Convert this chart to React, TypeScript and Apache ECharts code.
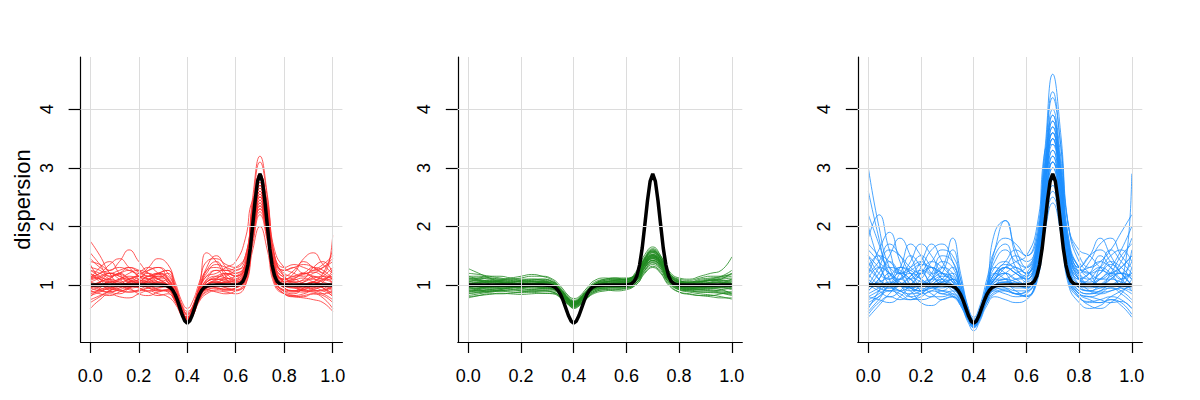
import React, { useEffect, useRef } from "react";
import * as echarts from "echarts";

// shared x grid for the simulated curves
const X = [0, 0.04, 0.08, 0.12, 0.16, 0.2, 0.24, 0.28, 0.32, 0.35, 0.38, 0.4, 0.42, 0.45, 0.48, 0.52, 0.56, 0.6, 0.64, 0.67, 0.7, 0.73, 0.76, 0.8, 0.84, 0.88, 0.92, 0.96, 1.0];

// true dispersion function (black)
const truthX = [0, 0.28, 0.3, 0.31, 0.32, 0.33, 0.34, 0.35, 0.36, 0.37, 0.38, 0.39, 0.4, 0.41, 0.42, 0.43, 0.44, 0.45, 0.46, 0.47, 0.48, 0.49, 0.5, 0.52, 0.58, 0.6, 0.61, 0.62, 0.63, 0.64, 0.65, 0.66, 0.67, 0.68, 0.69, 0.7, 0.71, 0.72, 0.73, 0.74, 0.75, 0.76, 0.77, 0.78, 0.79, 0.8, 0.82, 1.0];
const truthY = [1, 1, 0.998, 0.993, 0.981, 0.957, 0.912, 0.838, 0.733, 0.606, 0.479, 0.385, 0.35, 0.385, 0.479, 0.606, 0.733, 0.838, 0.912, 0.957, 0.981, 0.993, 0.998, 1, 1, 1.002, 1.007, 1.024, 1.066, 1.16, 1.34, 1.63, 2.03, 2.44, 2.77, 2.9, 2.77, 2.44, 2.03, 1.63, 1.34, 1.16, 1.066, 1.024, 1.007, 1.002, 1, 1];

const redCurves = [
  [1.05,1.12,1.2,1.15,1.05,1.0,1.08,1.15,1.05,0.82,0.5,0.4,0.5,0.85,1.05,1.1,1.05,1.02,1.25,2.2,2.8,2.2,1.3,1.05,1.1,1.2,1.12,1.0,0.95],
  [0.85,0.9,0.95,0.92,0.88,0.9,0.95,0.92,0.88,0.72,0.45,0.38,0.45,0.75,0.9,0.95,0.92,0.95,1.1,1.8,2.4,1.85,1.1,0.9,0.88,0.92,0.95,0.9,0.82],
  [1.3,1.25,1.15,1.2,1.3,1.25,1.15,1.2,1.15,0.95,0.6,0.5,0.6,0.95,1.2,1.35,1.3,1.25,1.45,2.4,3.1,2.5,1.5,1.25,1.3,1.2,1.25,1.35,1.5],
  [1.75,1.5,1.2,1.05,1.1,1.15,1.1,1.0,0.95,0.8,0.52,0.42,0.5,0.8,0.98,1.05,1.0,0.98,1.2,2.0,2.6,2.0,1.2,0.95,0.9,1.0,1.05,0.95,0.8],
  [0.7,0.8,0.9,1.0,0.95,0.85,0.82,0.88,0.9,0.75,0.48,0.38,0.47,0.78,0.95,1.0,0.95,0.9,1.05,1.7,2.2,1.75,1.05,0.85,0.8,0.82,0.85,0.78,0.6],
  [1.1,1.3,1.4,1.2,1.05,1.1,1.25,1.3,1.1,0.85,0.55,0.45,0.55,0.9,1.25,1.4,1.2,1.1,1.35,2.3,2.9,2.3,1.4,1.15,1.05,1.1,1.3,1.4,1.2],
  [0.95,1.0,1.05,1.1,1.15,1.1,1.0,0.95,0.98,0.8,0.5,0.42,0.5,0.82,1.0,1.05,1.1,1.15,1.3,2.1,2.7,2.1,1.3,1.05,1.0,0.95,1.0,1.1,1.15],
  [1.2,1.1,1.0,0.9,0.95,1.05,1.15,1.2,1.1,0.85,0.55,0.45,0.52,0.8,1.0,1.1,1.2,1.15,1.4,2.5,3.2,2.55,1.5,1.15,1.0,0.9,0.95,1.05,1.25],
  [0.9,0.85,0.82,0.88,0.95,1.0,0.95,0.9,0.92,0.78,0.5,0.4,0.48,0.78,0.92,0.88,0.85,0.9,1.0,1.6,2.0,1.6,1.0,0.85,0.82,0.85,0.9,0.85,0.75],
  [1.4,1.35,1.25,1.4,1.6,1.4,1.2,1.1,1.0,0.8,0.5,0.4,0.5,0.9,1.3,1.5,1.3,1.15,1.3,2.2,2.8,2.2,1.35,1.1,1.2,1.45,1.55,1.35,1.2],
  [1.0,1.05,1.1,1.05,1.0,0.98,1.0,1.05,1.0,0.82,0.52,0.42,0.52,0.85,1.02,1.05,1.02,1.0,1.2,2.0,2.6,2.05,1.2,1.0,1.0,1.05,1.1,1.05,1.0],
  [0.6,0.75,0.85,0.8,0.78,0.85,0.9,0.85,0.8,0.68,0.45,0.37,0.45,0.72,0.85,0.9,0.88,0.85,1.0,1.75,2.25,1.8,1.05,0.85,0.8,0.78,0.75,0.7,0.55],
  [1.15,1.2,1.35,1.45,1.3,1.15,1.1,1.2,1.25,1.0,0.65,0.55,0.62,0.95,1.15,1.2,1.3,1.4,1.8,2.45,2.5,2.0,1.4,1.2,1.15,1.2,1.3,1.25,1.1],
  [1.25,1.15,1.05,1.0,1.05,1.15,1.3,1.45,1.35,1.05,0.7,0.6,0.7,1.05,1.4,1.45,1.35,1.3,1.5,2.3,2.85,2.4,1.6,1.3,1.2,1.15,1.2,1.3,1.45],
  [0.8,0.95,1.1,1.2,1.1,0.95,0.9,0.95,1.0,0.85,0.55,0.45,0.55,0.85,1.0,0.95,0.9,0.95,1.1,1.9,2.45,1.9,1.1,0.9,0.85,0.95,1.05,0.95,0.85],
  [1.55,1.35,1.15,1.2,1.25,1.15,1.05,1.1,1.2,0.95,0.62,0.5,0.6,1.0,1.55,1.4,1.15,1.05,1.25,2.15,2.75,2.2,1.35,1.15,1.25,1.4,1.3,1.2,1.85],
  [1.0,0.92,0.88,0.95,1.05,1.2,1.3,1.2,1.05,0.8,0.5,0.41,0.5,0.8,0.95,1.0,1.05,1.1,1.25,2.0,2.55,2.0,1.25,1.05,1.1,1.0,0.92,0.9,1.0],
  [0.75,0.82,0.9,0.95,0.98,0.95,0.88,0.82,0.85,0.72,0.48,0.4,0.48,0.75,0.88,0.92,0.95,0.92,1.1,1.85,2.35,1.85,1.1,0.88,0.82,0.8,0.85,0.82,0.7],
  [1.1,1.2,1.25,1.3,1.25,1.2,1.25,1.3,1.2,0.92,0.58,0.48,0.58,0.92,1.15,1.25,1.25,1.2,1.35,2.25,2.9,2.35,1.45,1.25,1.3,1.35,1.3,1.2,1.1],
  [1.35,1.1,0.95,0.9,0.88,0.92,1.0,1.05,0.95,0.75,0.48,0.39,0.48,0.78,0.95,1.0,0.98,1.0,1.15,1.95,2.5,1.95,1.15,0.98,0.95,0.9,0.88,0.85,0.9],
  [0.95,1.05,1.2,1.1,1.0,1.05,1.15,1.05,0.98,0.78,0.5,0.4,0.5,0.8,0.98,1.02,1.15,1.25,1.35,2.1,2.65,2.1,1.3,1.05,1.0,1.05,1.15,1.1,1.05],
  [1.2,1.05,0.9,0.85,0.95,1.1,1.2,1.1,1.0,0.82,0.55,0.45,0.55,0.88,1.1,1.25,1.1,1.0,1.2,1.9,2.3,1.85,1.15,0.95,0.9,0.95,1.05,1.2,1.6],
  [1.05,1.0,0.95,1.0,1.1,1.15,1.1,1.05,1.0,0.8,0.5,0.41,0.5,0.82,1.0,1.08,1.12,1.08,1.25,2.05,2.6,2.1,1.25,1.05,0.98,0.95,1.0,1.08,1.1],
  [0.9,0.98,1.05,1.0,0.92,0.9,0.95,1.0,0.95,0.78,0.5,0.4,0.49,0.8,0.95,0.98,1.0,1.02,1.2,1.95,2.45,1.95,1.2,1.0,0.95,1.0,1.05,1.0,0.92],
  [1.15,1.1,1.05,1.1,1.2,1.25,1.2,1.1,1.05,0.85,0.55,0.44,0.53,0.86,1.05,1.15,1.2,1.15,1.3,2.15,2.7,2.15,1.3,1.1,1.15,1.2,1.15,1.1,1.2],
  [0.98,1.05,1.12,1.18,1.1,1.02,0.98,1.0,1.02,0.83,0.52,0.42,0.51,0.83,1.0,1.05,1.0,0.98,1.15,1.9,2.4,1.95,1.2,1.02,1.08,1.12,1.05,0.98,0.9],
  [1.25,1.2,1.1,1.02,0.98,1.0,1.05,1.12,1.08,0.86,0.54,0.43,0.52,0.85,1.05,1.12,1.18,1.2,1.35,2.2,2.75,2.2,1.35,1.12,1.05,1.02,1.05,1.15,1.3],
  [0.82,0.88,0.95,0.98,1.02,1.05,1.0,0.92,0.9,0.74,0.47,0.38,0.47,0.76,0.92,0.95,0.92,0.95,1.1,1.85,2.3,1.85,1.1,0.92,0.9,0.92,0.98,0.95,0.85],
  [1.1,1.15,1.2,1.15,1.08,1.05,1.1,1.18,1.12,0.88,0.55,0.45,0.55,0.88,1.08,1.15,1.12,1.08,1.28,2.1,2.65,2.15,1.3,1.1,1.12,1.18,1.22,1.15,1.05],
  [1.0,0.95,0.92,0.98,1.05,1.08,1.05,1.0,0.98,0.8,0.5,0.4,0.5,0.8,0.98,1.02,1.05,1.05,1.22,2.0,2.55,2.05,1.25,1.05,1.0,0.98,0.95,0.98,1.02],
  [1.45,1.3,1.2,1.25,1.3,1.22,1.15,1.2,1.25,0.98,0.62,0.52,0.62,0.98,1.25,1.3,1.25,1.3,1.5,2.35,2.9,2.35,1.5,1.3,1.35,1.3,1.25,1.3,1.4],
  [0.88,0.92,1.0,1.08,1.12,1.05,0.95,0.9,0.92,0.76,0.49,0.4,0.49,0.78,0.94,1.0,1.05,1.0,1.15,1.9,2.35,1.9,1.15,0.95,0.9,0.88,0.92,0.98,1.05],
  [1.08,1.12,1.08,1.0,0.95,0.98,1.08,1.15,1.1,0.87,0.55,0.44,0.54,0.86,1.05,1.1,1.08,1.05,1.25,2.1,2.7,2.1,1.28,1.08,1.05,1.08,1.12,1.15,1.1],
  [0.95,0.9,0.88,0.92,0.98,1.02,1.05,1.02,0.96,0.78,0.49,0.4,0.49,0.8,0.96,1.0,0.98,0.98,1.15,1.95,2.5,2.0,1.2,1.0,0.96,0.92,0.9,0.92,0.96],
];

const greenCurves = [
  [1.0,1.02,1.05,1.05,1.03,1.0,1.0,1.02,1.0,0.9,0.75,0.7,0.74,0.88,0.98,1.02,1.03,1.05,1.15,1.35,1.45,1.35,1.15,1.02,1.0,1.0,1.02,1.0,0.98],
  [0.88,0.9,0.92,0.9,0.88,0.87,0.88,0.9,0.88,0.8,0.68,0.63,0.67,0.78,0.88,0.92,0.93,0.95,1.05,1.25,1.35,1.25,1.05,0.92,0.9,0.88,0.88,0.86,0.82],
  [1.2,1.18,1.15,1.12,1.1,1.12,1.15,1.15,1.1,0.98,0.82,0.77,0.8,0.95,1.08,1.12,1.1,1.1,1.2,1.45,1.6,1.45,1.22,1.1,1.08,1.12,1.15,1.15,1.2],
  [1.1,1.08,1.05,1.02,1.0,1.02,1.05,1.05,1.0,0.88,0.72,0.66,0.7,0.85,0.98,1.05,1.08,1.1,1.2,1.42,1.55,1.4,1.15,1.0,0.98,1.0,1.05,1.1,1.2],
  [0.82,0.85,0.88,0.9,0.92,0.9,0.88,0.86,0.85,0.78,0.66,0.61,0.65,0.78,0.88,0.92,0.9,0.92,1.02,1.2,1.3,1.2,1.0,0.88,0.85,0.82,0.82,0.85,0.88],
  [1.05,1.1,1.12,1.1,1.08,1.05,1.02,1.0,0.98,0.88,0.73,0.68,0.72,0.86,0.98,1.0,1.02,1.05,1.15,1.38,1.5,1.4,1.18,1.05,1.02,1.05,1.08,1.05,1.0],
  [0.95,0.98,1.0,1.02,1.05,1.08,1.1,1.08,1.02,0.9,0.75,0.7,0.74,0.87,0.98,1.0,1.0,1.02,1.12,1.35,1.48,1.38,1.15,1.0,0.95,0.95,0.98,1.02,1.1],
  [1.28,1.2,1.12,1.05,1.0,0.98,1.0,1.02,0.98,0.87,0.72,0.67,0.71,0.85,0.97,1.02,1.05,1.08,1.2,1.45,1.58,1.45,1.2,1.05,1.0,0.98,0.98,1.0,1.05],
  [0.78,0.82,0.85,0.85,0.86,0.88,0.9,0.9,0.88,0.8,0.67,0.62,0.66,0.8,0.9,0.95,0.95,0.95,1.05,1.25,1.38,1.28,1.05,0.92,0.88,0.85,0.83,0.8,0.76],
  [1.15,1.15,1.12,1.1,1.12,1.15,1.18,1.15,1.08,0.95,0.8,0.74,0.78,0.92,1.05,1.1,1.12,1.12,1.22,1.48,1.62,1.5,1.25,1.12,1.1,1.15,1.2,1.25,1.48],
  [0.98,0.96,0.95,0.96,0.98,1.0,0.98,0.96,0.95,0.86,0.71,0.66,0.7,0.84,0.95,0.98,0.98,1.0,1.1,1.32,1.45,1.35,1.12,0.98,0.96,0.96,0.97,0.98,0.95],
  [0.9,0.94,0.98,1.0,0.98,0.95,0.92,0.92,0.92,0.83,0.69,0.64,0.68,0.82,0.92,0.95,0.97,1.0,1.1,1.3,1.42,1.32,1.1,0.95,0.92,0.92,0.94,0.92,0.85],
  [1.05,1.04,1.05,1.08,1.1,1.08,1.05,1.05,1.05,0.93,0.78,0.72,0.76,0.9,1.02,1.08,1.1,1.1,1.25,1.52,1.65,1.5,1.22,1.08,1.05,1.05,1.08,1.12,1.15],
  [0.85,0.88,0.9,0.92,0.95,0.97,0.98,0.96,0.93,0.84,0.7,0.65,0.69,0.82,0.93,0.98,1.0,1.02,1.12,1.35,1.48,1.38,1.12,0.98,0.92,0.9,0.9,0.92,0.95],
  [1.0,1.05,1.08,1.08,1.05,1.02,1.02,1.05,1.03,0.92,0.76,0.7,0.74,0.88,1.02,1.1,1.12,1.08,1.18,1.4,1.52,1.42,1.2,1.05,1.05,1.08,1.1,1.08,1.02],
  [0.92,0.9,0.88,0.9,0.92,0.95,0.98,1.0,0.98,0.88,0.73,0.68,0.72,0.86,0.96,1.0,0.98,0.98,1.08,1.3,1.42,1.32,1.1,0.96,0.95,0.96,0.98,1.0,1.02],
  [1.1,1.12,1.15,1.15,1.12,1.1,1.1,1.1,1.05,0.92,0.77,0.72,0.75,0.9,1.02,1.06,1.08,1.1,1.2,1.45,1.58,1.48,1.22,1.08,1.05,1.1,1.12,1.15,1.25],
  [0.8,0.82,0.84,0.86,0.85,0.84,0.85,0.86,0.86,0.79,0.67,0.6,0.64,0.77,0.86,0.9,0.92,0.94,1.02,1.22,1.32,1.22,1.02,0.88,0.84,0.82,0.8,0.78,0.78],
  [1.02,1.0,0.98,1.0,1.02,1.04,1.06,1.06,1.02,0.9,0.74,0.69,0.73,0.87,0.99,1.04,1.06,1.06,1.15,1.4,1.52,1.4,1.15,1.02,1.0,1.02,1.04,1.06,1.1],
  [0.95,0.92,0.9,0.92,0.96,1.0,1.02,1.0,0.96,0.86,0.72,0.67,0.71,0.85,0.95,0.98,1.02,1.05,1.15,1.38,1.5,1.38,1.12,0.98,0.95,0.92,0.9,0.88,0.85],
  [1.12,1.08,1.02,0.98,0.98,1.0,1.02,1.04,1.0,0.89,0.74,0.68,0.72,0.86,0.98,1.02,1.04,1.06,1.18,1.42,1.55,1.42,1.18,1.04,1.0,0.98,1.0,1.02,1.08],
  [0.88,0.92,0.95,0.95,0.94,0.92,0.92,0.94,0.94,0.85,0.71,0.66,0.7,0.84,0.94,0.97,0.96,0.98,1.08,1.3,1.4,1.3,1.08,0.94,0.92,0.93,0.95,0.95,0.92],
  [1.0,0.98,0.97,0.98,1.0,1.02,1.03,1.02,1.0,0.89,0.74,0.69,0.73,0.87,0.98,1.02,1.03,1.04,1.14,1.38,1.5,1.38,1.14,1.01,0.99,1.0,1.01,1.0,0.98],
  [0.93,0.95,0.97,0.98,0.97,0.95,0.95,0.96,0.95,0.86,0.71,0.66,0.7,0.84,0.94,0.97,0.99,1.0,1.1,1.33,1.45,1.34,1.1,0.96,0.94,0.95,0.96,0.96,0.94],
  [1.08,1.06,1.05,1.06,1.08,1.08,1.06,1.05,1.03,0.91,0.76,0.71,0.75,0.89,1.0,1.05,1.07,1.08,1.18,1.44,1.56,1.44,1.18,1.05,1.04,1.06,1.08,1.08,1.06],
  [0.97,1.0,1.02,1.02,1.0,0.98,0.97,0.98,0.97,0.87,0.72,0.67,0.71,0.85,0.96,1.0,1.01,1.02,1.12,1.36,1.47,1.36,1.12,0.99,0.97,0.98,1.0,1.01,1.0],
  [1.05,1.08,1.08,1.05,1.02,1.0,1.0,1.02,1.02,0.9,0.75,0.7,0.73,0.88,1.0,1.04,1.05,1.06,1.16,1.4,1.52,1.4,1.16,1.03,1.02,1.04,1.05,1.04,1.02],
  [0.9,0.9,0.92,0.94,0.96,0.96,0.95,0.94,0.93,0.84,0.7,0.65,0.69,0.83,0.93,0.96,0.97,0.98,1.08,1.3,1.42,1.32,1.08,0.95,0.93,0.93,0.92,0.9,0.88],
  [1.15,1.1,1.06,1.04,1.04,1.06,1.08,1.08,1.05,0.93,0.78,0.72,0.76,0.9,1.03,1.08,1.1,1.1,1.2,1.46,1.6,1.46,1.2,1.07,1.05,1.06,1.08,1.1,1.12],
  [0.96,0.94,0.93,0.94,0.96,0.98,1.0,1.0,0.98,0.88,0.73,0.68,0.72,0.86,0.97,1.0,1.0,1.01,1.11,1.34,1.46,1.35,1.11,0.98,0.96,0.95,0.95,0.96,0.97],
  [1.02,1.04,1.06,1.06,1.04,1.02,1.0,1.0,1.0,0.9,0.74,0.69,0.73,0.87,0.99,1.02,1.03,1.04,1.14,1.38,1.5,1.39,1.14,1.01,1.0,1.02,1.04,1.04,1.03],
  [0.86,0.87,0.89,0.9,0.9,0.9,0.9,0.9,0.9,0.82,0.69,0.63,0.67,0.81,0.9,0.94,0.95,0.96,1.05,1.27,1.38,1.28,1.06,0.93,0.9,0.88,0.87,0.86,0.84],
  [1.12,1.12,1.1,1.08,1.06,1.06,1.08,1.1,1.06,0.93,0.77,0.72,0.76,0.9,1.02,1.06,1.08,1.09,1.19,1.44,1.57,1.45,1.19,1.06,1.04,1.06,1.1,1.14,1.18],
  [0.99,0.97,0.96,0.97,0.99,1.01,1.01,1.0,0.98,0.88,0.73,0.68,0.72,0.86,0.97,1.0,1.01,1.02,1.12,1.36,1.48,1.37,1.13,0.99,0.97,0.97,0.98,0.99,1.0],
];

const blueCurves = [
  [1.2,1.6,1.9,1.4,1.0,0.9,1.1,1.4,1.3,0.9,0.45,0.3,0.45,0.9,1.5,1.7,1.3,1.1,1.6,2.9,3.8,3.0,1.7,1.2,1.0,1.3,1.6,1.4,1.2],
  [0.7,0.8,0.9,0.85,0.75,0.8,0.9,0.85,0.8,0.65,0.38,0.27,0.38,0.7,0.85,0.9,0.85,0.88,1.2,2.2,2.9,2.3,1.2,0.85,0.8,0.75,0.7,0.72,0.6],
  [3.0,2.0,1.3,1.1,1.3,1.5,1.3,1.1,1.0,0.85,0.5,0.35,0.48,0.85,1.1,1.2,1.1,1.0,1.5,2.8,3.6,2.8,1.6,1.1,1.0,1.1,1.2,1.1,0.9],
  [0.95,1.2,1.5,1.8,1.5,1.1,0.95,1.0,1.1,0.9,0.5,0.35,0.5,0.95,1.3,1.2,1.0,1.1,1.7,3.0,4.0,3.2,1.8,1.3,1.5,1.8,1.5,1.2,1.0],
  [0.5,0.7,0.8,0.75,0.85,0.95,0.85,0.75,0.8,0.68,0.4,0.28,0.4,0.72,0.95,1.0,0.9,0.8,1.1,2.0,2.6,2.1,1.1,0.8,0.7,0.7,0.75,0.65,0.45],
  [1.5,1.3,1.1,1.3,1.7,1.5,1.2,1.3,1.8,1.2,0.6,0.42,0.55,1.0,1.6,2.1,1.6,1.3,1.8,3.1,4.2,3.4,2.0,1.5,1.3,1.4,1.6,1.9,2.2],
  [1.0,0.9,0.8,0.9,1.1,1.2,1.0,0.85,0.9,0.75,0.45,0.32,0.45,0.8,1.0,1.1,1.05,0.95,1.3,2.4,3.2,2.5,1.3,0.9,0.85,0.9,1.0,0.95,0.85],
  [2.2,1.7,1.2,1.0,0.9,1.0,1.2,1.5,1.4,1.0,0.55,0.4,0.52,0.9,1.2,1.3,1.4,1.5,2.0,3.3,4.6,3.6,2.0,1.4,1.2,1.0,1.1,1.3,1.5],
  [0.8,0.75,0.7,0.8,1.0,1.2,1.3,1.1,0.95,0.78,0.45,0.3,0.44,0.8,1.0,0.95,0.85,0.9,1.25,2.3,3.0,2.3,1.2,0.85,0.75,0.7,0.8,0.9,1.0],
  [1.3,1.5,1.4,1.2,1.1,1.3,1.6,1.7,1.4,1.0,0.55,0.38,0.5,1.0,1.9,2.1,1.5,1.2,1.6,2.7,3.4,2.7,1.6,1.2,1.4,1.7,1.8,1.5,1.3],
  [0.6,0.9,1.2,1.0,0.8,0.75,0.8,0.9,0.85,0.7,0.42,0.3,0.42,0.75,0.9,0.85,0.8,0.85,1.15,2.1,2.7,2.1,1.1,0.8,0.65,0.6,0.7,0.85,1.1],
  [1.8,2.2,1.6,1.2,1.3,1.4,1.2,1.0,1.1,0.9,0.5,0.36,0.5,0.88,1.1,1.3,1.2,1.1,1.5,2.6,3.5,2.7,1.5,1.1,1.2,1.3,1.2,1.0,1.3],
  [1.1,1.0,1.0,1.1,1.2,1.1,1.0,1.05,1.1,0.92,0.52,0.38,0.5,0.9,1.1,1.1,1.0,1.0,1.4,2.6,3.3,2.6,1.4,1.0,1.0,1.1,1.1,1.05,1.0],
  [0.45,0.65,0.85,1.0,0.9,0.7,0.65,0.75,0.8,0.65,0.35,0.22,0.35,0.65,0.8,0.75,0.7,0.75,1.05,1.9,2.4,1.9,1.0,0.7,0.6,0.65,0.75,0.7,0.5],
  [1.4,1.1,0.9,1.1,1.4,1.7,1.5,1.2,1.1,0.88,0.5,0.36,0.5,0.92,1.2,1.4,1.6,1.5,1.8,3.0,3.9,3.0,1.7,1.3,1.1,1.0,1.2,1.5,1.7],
  [0.9,1.1,1.3,1.25,1.1,1.0,1.1,1.2,1.05,0.85,0.5,0.34,0.48,0.85,1.05,1.2,1.3,1.2,1.5,2.5,3.1,2.5,1.4,1.0,0.9,1.0,1.15,1.2,1.1],
  [2.6,1.8,1.1,0.8,0.75,0.85,1.0,1.1,1.0,0.8,0.45,0.32,0.45,0.8,1.0,1.05,1.1,1.2,1.6,3.3,3.4,2.6,1.5,1.1,0.9,0.85,0.9,1.0,1.6],
  [1.0,1.3,1.6,1.5,1.3,1.2,1.4,1.6,1.5,1.1,0.6,0.45,0.6,1.1,1.6,1.8,1.7,1.5,1.9,3.2,4.3,3.4,2.0,1.6,1.5,1.3,1.2,1.4,1.8],
  [0.75,0.85,1.0,1.2,1.1,0.9,0.8,0.8,0.85,0.72,0.43,0.3,0.43,0.78,0.95,0.9,0.85,0.8,1.2,2.3,2.8,2.2,1.2,0.9,0.85,0.9,0.95,0.85,0.7],
  [1.2,1.0,0.95,1.0,1.15,1.4,1.7,1.4,1.1,0.85,0.48,0.34,0.48,0.85,1.1,1.3,1.2,1.05,1.45,2.6,3.5,2.7,1.5,1.1,1.05,1.2,1.4,1.3,1.1],
  [1.6,1.4,1.2,1.05,0.95,0.9,0.95,1.05,1.2,0.95,0.52,0.37,0.52,0.95,1.3,1.4,1.25,1.15,1.5,2.7,3.7,2.9,1.7,1.3,1.5,1.6,1.4,1.2,1.0],
  [0.85,0.95,1.05,1.0,0.95,1.0,1.1,1.05,0.95,0.8,0.48,0.35,0.48,0.82,1.0,1.0,0.95,0.95,1.3,2.4,3.1,2.4,1.3,0.95,0.9,0.95,1.0,1.05,2.9],
  [1.3,1.1,1.0,1.2,1.5,1.3,1.0,0.9,1.0,0.82,0.46,0.33,0.46,0.85,1.15,1.3,1.2,1.1,1.5,2.7,3.5,2.8,1.5,1.1,1.2,1.5,1.3,1.1,1.2],
  [0.9,1.1,1.4,1.2,0.95,0.9,1.0,1.2,1.6,1.1,0.55,0.38,0.5,0.9,1.2,1.1,1.0,1.05,1.45,2.6,3.3,2.6,1.4,1.1,1.0,0.95,1.0,1.1,1.2],
  [1.1,1.3,1.2,1.0,0.95,1.1,1.3,1.2,1.05,0.85,0.48,0.34,0.47,0.85,1.05,1.1,1.2,1.3,1.6,2.8,3.6,2.8,1.6,1.2,1.1,1.2,1.35,1.2,1.0],
  [0.65,0.8,1.0,1.1,0.95,0.85,0.9,1.0,0.9,0.72,0.42,0.3,0.42,0.75,0.92,0.95,0.9,0.9,1.2,2.2,2.8,2.2,1.15,0.85,0.8,0.85,0.95,0.9,0.75],
  [1.5,1.2,1.1,1.3,1.2,1.0,1.1,1.3,1.2,0.9,0.5,0.36,0.5,0.9,1.1,1.3,1.5,1.4,1.7,2.9,3.7,2.9,1.7,1.3,1.2,1.3,1.5,1.6,1.4],
  [1.0,1.05,1.15,1.3,1.25,1.1,1.0,0.95,1.0,0.8,0.47,0.33,0.46,0.82,1.0,1.05,1.0,0.98,1.35,2.5,3.2,2.5,1.35,1.0,0.95,1.0,1.1,1.2,1.15],
  [2.0,1.4,1.0,0.9,1.0,1.2,1.4,1.3,1.1,0.88,0.5,0.36,0.5,0.88,1.1,1.2,1.1,1.15,1.55,2.8,3.6,2.9,1.6,1.15,1.0,1.1,1.3,1.6,2.0],
  [0.8,0.9,1.0,0.9,0.85,0.9,1.05,1.15,1.05,0.82,0.46,0.32,0.45,0.8,0.98,1.0,1.05,1.0,1.3,2.4,3.1,2.4,1.3,0.95,0.9,0.88,0.9,0.95,0.9],
  [1.2,1.4,1.7,1.5,1.2,1.05,1.0,1.1,1.3,1.0,0.55,0.4,0.55,1.0,1.4,1.6,1.4,1.3,1.7,3.0,3.9,3.1,1.8,1.3,1.2,1.1,1.2,1.3,1.5],
  [0.55,0.75,0.95,0.9,0.8,0.85,0.95,0.9,0.82,0.68,0.4,0.28,0.4,0.7,0.88,0.92,0.85,0.82,1.1,2.0,2.5,2.0,1.05,0.78,0.72,0.75,0.8,0.75,0.6],
  [1.7,1.5,1.3,1.2,1.25,1.35,1.3,1.2,1.15,0.92,0.52,0.37,0.52,0.92,1.2,1.35,1.3,1.2,1.6,2.9,3.8,3.0,1.7,1.25,1.3,1.4,1.3,1.2,1.4],
  [1.05,0.95,0.9,1.0,1.15,1.25,1.15,1.0,0.95,0.78,0.46,0.32,0.45,0.8,1.0,1.05,1.0,0.95,1.3,2.4,3.0,2.4,1.3,1.0,1.1,1.25,1.15,1.0,0.95],
];

const xTicks = [0, 0.2, 0.4, 0.6, 0.8, 1.0];
const yTicks = [1, 2, 3, 4];
const panelColors = ["#FF3030", "#228B22", "#1E90FF"];
const yLabel = "dispersion";

const FONT = "'Liberation Sans', Arial, Helvetica, sans-serif";

export default function App() {
  const ref = useRef<HTMLDivElement>(null);
  useEffect(() => {
    if (!ref.current) return;
    const chart = echarts.init(ref.current, undefined, { renderer: "svg" });
    const grids = [
      { left: 80.6, top: 57, width: 261.8, height: 285 },
      { left: 457.8, top: 57, width: 284.5, height: 285 },
      { left: 857.8, top: 57, width: 284.5, height: 285 },
    ];
    const xAxes = grids.map((_, i) => ({
      type: "value",
      gridIndex: i,
      min: -0.04,
      max: 1.04,
      axisLine: { show: true, onZero: false, lineStyle: { color: "#000", width: 1.2 } },
      axisTick: { show: true, customValues: xTicks, length: 11, lineStyle: { color: "#000", width: 1.2 } },
      axisLabel: {
        show: true,
        customValues: xTicks,
        formatter: (v: number) => v.toFixed(1),
        fontSize: 18,
        fontFamily: FONT,
        color: "#000",
        margin: 25,
      },
      splitLine: { show: false },
    }));
    const yAxes = grids.map((_, i) => ({
      type: "value",
      gridIndex: i,
      min: 0.027,
      max: 4.894,
      axisLine: { show: true, onZero: false, lineStyle: { color: "#000", width: 1.2 } },
      axisTick: { show: true, customValues: yTicks, length: 12, lineStyle: { color: "#000", width: 1.2 } },
      axisLabel: {
        show: true,
        customValues: yTicks,
        formatter: (v: number) => String(v),
        rotate: 90,
        fontSize: 18,
        fontFamily: FONT,
        color: "#000",
        margin: 25,
      },
      splitLine: { show: false },
    }));
    const series: any[] = [];
    const panels = [redCurves, greenCurves, blueCurves];
    panels.forEach((curves, i) => {
      series.push({
        type: "line",
        xAxisIndex: i,
        yAxisIndex: i,
        data: [[0, 1]],
        symbol: "none",
        lineStyle: { opacity: 0 },
        silent: true,
        z: 1,
        markLine: {
          silent: true,
          symbol: "none",
          label: { show: false },
          lineStyle: { color: "#dcdcdc", width: 1, type: "solid" },
          data: [
            ...xTicks.map((v) => ({ xAxis: v })),
            ...yTicks.map((v) => ({ yAxis: v })),
          ],
        },
      });
      curves.forEach((row) => {
        series.push({
          type: "line",
          xAxisIndex: i,
          yAxisIndex: i,
          data: X.map((x, j) => [x, row[j]]),
          smooth: 0.5,
          symbol: "none",
          silent: true,
          lineStyle: { color: panelColors[i], width: 1, opacity: 0.8 },
          z: 2,
        });
      });
      series.push({
        type: "line",
        xAxisIndex: i,
        yAxisIndex: i,
        data: truthX.map((x, j) => [x, truthY[j]]),
        symbol: "none",
        silent: true,
        lineStyle: { color: "#000", width: 3.5 },
        z: 3,
      });
    });
    chart.setOption({
      animation: false,
      backgroundColor: "#fff",
      grid: grids,
      xAxis: xAxes,
      yAxis: yAxes,
      series,
      graphic: [
        {
          type: "text",
          x: 22,
          y: 199.5,
          rotation: Math.PI / 2,
          style: {
            text: yLabel,
            font: `22px ${FONT}`,
            fill: "#000",
            align: "center",
            verticalAlign: "middle",
          },
        },
      ],
    });
    return () => chart.dispose();
  }, []);
  return (
    <div
      ref={ref}
      style={{ position: "fixed", left: 0, top: 0, width: 1200, height: 400 }}
    />
  );
}
